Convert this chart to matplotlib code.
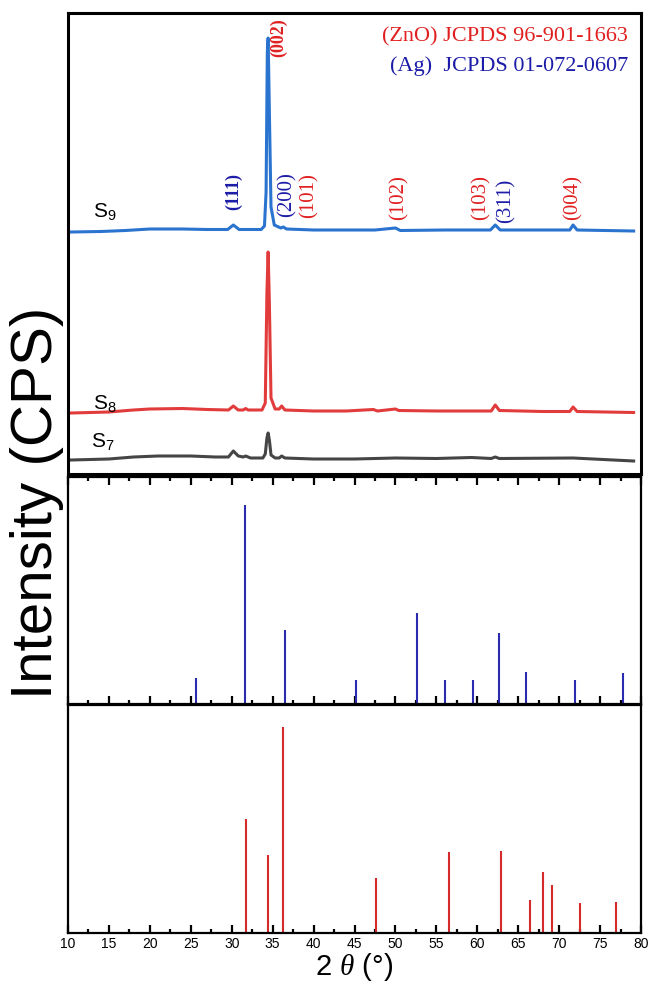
import matplotlib
matplotlib.use("Agg")
import matplotlib.pyplot as plt
from matplotlib.ticker import MultipleLocator

plt.rcParams['font.family'] = ['Liberation Sans', 'DejaVu Sans']
plt.rcParams['mathtext.fontset'] = 'custom'
plt.rcParams['mathtext.rm'] = 'Liberation Sans'
plt.rcParams['mathtext.it'] = 'Liberation Serif:italic'

# measured patterns (2theta, intensity above own baseline, a.u.)
s9_x = [10.4, 14, 17, 20, 24, 27, 29.5, 30.2, 30.9, 33.6, 34.0, 34.2, 34.35, 34.45, 34.6, 34.8,
        35.2, 36.0, 36.3, 36.7, 40, 47.5, 50.0, 50.6, 56, 61.6, 62.2, 62.8, 70, 71.3, 71.7, 72.2, 79.1]
s9_y = [0, 0.5, 1.5, 3, 3, 2.5, 2.5, 7, 2.5, 2.5, 6, 40, 180, 194, 120, 25,
        7, 4, 5, 3, 2, 2, 4, 1.5, 2, 2, 7, 2, 2, 2, 7, 2, 1]

s8_x = [10.4, 15, 18, 20, 24, 27, 29.6, 30.2, 30.8, 31.4, 31.7, 32, 33.7, 34.1, 34.3, 34.45, 34.6,
        34.8, 35.3, 35.8, 36.1, 36.5, 40, 44, 47.3, 47.8, 50.0, 50.4, 55, 61.7, 62.2, 62.7, 68,
        71.3, 71.7, 72.2, 79.1]
s8_y = [0, 1, 3, 4, 4.5, 3.5, 3, 7, 3, 3, 4.5, 3, 3, 10, 120, 161, 110,
        15, 4, 4, 7, 3, 2, 2, 3.5, 2, 4, 2.5, 2, 2, 8, 2.5, 1.5,
        1.5, 6, 1.5, 0.5]

s7_x = [10.4, 15, 18, 21, 25, 28, 29.6, 30.2, 30.8, 31.4, 31.7, 32.3, 33.8, 34.1, 34.3, 34.45, 34.6,
        34.8, 35.3, 35.8, 36.1, 36.5, 40, 45, 50, 55, 59.3, 61.7, 62.2, 62.7, 71.7, 79.1]
s7_y = [0, 1, 3, 4, 4, 3, 3, 9, 4, 3, 4, 2, 2, 6, 22, 27, 20,
        5, 2, 2, 4, 2, 1, 1, 2, 1.5, 2.5, 1.5, 3, 1.5, 2, -1]

# reference cards
ref_blue_pos = [25.6, 31.6, 36.5, 45.2, 52.6, 56.1, 59.5, 62.7, 65.9, 71.9, 77.8]
ref_blue_int = [13.1, 100, 37.4, 12.1, 45.5, 12.1, 12.1, 35.9, 16.2, 12.1, 15.7]

zno_pos = [31.8, 34.4, 36.3, 47.6, 56.6, 62.9, 66.4, 68.0, 69.1, 72.6, 77.0]
zno_int = [55.3, 37.9, 100, 26.7, 39.3, 39.8, 16.0, 29.6, 23.3, 14.6, 15.0]

# peak labels: (text, 2theta, colour, weight, size, height)
labels = [("(111)", 30.2, "#1c1ca8", "bold", 13, 282),
          ("(200)", 36.7, "#1c1ca8", "normal", 15, 279),
          ("(101)", 39.4, "#e02020", "normal", 15, 278),
          ("(002)", 35.7, "#e02020", "bold", 13, 436),
          ("(102)", 50.4, "#e02020", "normal", 15, 276),
          ("(103)", 60.4, "#e02020", "normal", 15, 276),
          ("(311)", 63.5, "#1c1ca8", "normal", 15, 273),
          ("(004)", 71.7, "#e02020", "normal", 15, 277)]

fig = plt.figure(figsize=(6.48, 9.84), dpi=100)
L, W = 68 / 648, 573 / 648
ax1 = fig.add_axes([L, 1 - 474 / 984, W, 461 / 984])
ax2 = fig.add_axes([L, 1 - 704 / 984, W, 227 / 984])
ax3 = fig.add_axes([L, 1 - 933 / 984, W, 228 / 984])

# top panel
ax1.plot(s7_x, [v + 14 for v in s7_y], color="#454545", lw=2.2)
ax1.plot(s8_x, [v + 61 for v in s8_y], color="#e23b3b", lw=2.2)
ax1.plot(s9_x, [v + 242 for v in s9_y], color="#2a74d0", lw=2.2)
ax1.set_xlim(10, 80)
ax1.set_ylim(0, 461)
ax1.set_xticks([])
ax1.set_yticks([])
for s in ax1.spines.values():
    s.set_linewidth(2.2)

ax1.text(13.1, 262, "S$_9$", fontsize=15, va="center")
ax1.text(13.1, 71, "S$_8$", fontsize=15, va="center")
ax1.text(12.8, 32, "S$_7$", fontsize=15, va="center")

for txt, x, c, w, fs, y in labels:
    ax1.text(x, y, txt, color=c, fontweight=w, fontsize=fs, rotation=90,
             ha="center", va="center", family="Liberation Serif")

ax1.text(0.977, 0.948, "(ZnO) JCPDS 96-901-1663", transform=ax1.transAxes, color="#e02020",
         fontsize=16, ha="right", va="center", family="Liberation Serif")
ax1.text(0.977, 0.885, "(Ag)  JCPDS 01-072-0607", transform=ax1.transAxes, color="#1c1ca8",
         fontsize=16, ha="right", va="center", family="Liberation Serif")

# middle panel
ax2.vlines(ref_blue_pos, 0, ref_blue_int, color="#2b2bb0", lw=1.5)
ax2.set_xlim(10, 80)
ax2.set_ylim(0, 114)
ax2.set_yticks([])
ax2.xaxis.set_major_locator(MultipleLocator(5))
ax2.xaxis.set_minor_locator(MultipleLocator(2.5))
ax2.tick_params(axis="x", which="both", direction="in", top=True, bottom=True,
                labelbottom=False, width=1.6)
ax2.tick_params(axis="x", which="major", length=6)
ax2.tick_params(axis="x", which="minor", length=3)
for s in ax2.spines.values():
    s.set_linewidth(1.6)

# bottom panel
ax3.vlines(zno_pos, 0, zno_int, color="#d42a2a", lw=1.5)
ax3.set_xlim(10, 80)
ax3.set_ylim(0, 110.7)
ax3.set_yticks([])
ax3.xaxis.set_major_locator(MultipleLocator(5))
ax3.xaxis.set_minor_locator(MultipleLocator(2.5))
ax3.tick_params(axis="x", which="both", direction="in", width=1.6, labelsize=10, pad=3)
ax3.tick_params(axis="x", which="major", length=6)
ax3.tick_params(axis="x", which="minor", length=3)
for s in ax3.spines.values():
    s.set_linewidth(1.6)
ax3.set_xlabel("2 $\\theta$ (°)", fontsize=21, labelpad=0)

fig.text(37 / 648, 1 - 503 / 984, "Intensity (CPS)", rotation=90, fontsize=42,
         ha="center", va="center")

fig.savefig("out.png", dpi=100)
